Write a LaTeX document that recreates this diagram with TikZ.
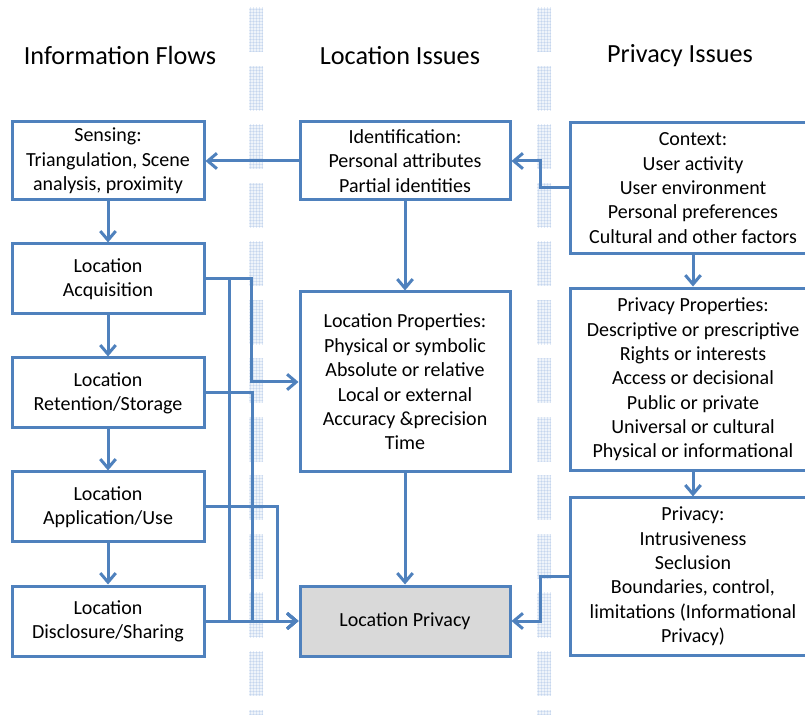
\documentclass[tikz,border=0pt]{standalone}
\usepackage{fontspec}
\setmainfont{Carlito}
\usetikzlibrary{arrows.meta,patterns}

\definecolor{flowblue}{RGB}{79,129,189}
\definecolor{lanegrid}{RGB}{176,198,232}
\definecolor{privgray}{RGB}{217,217,217}

\pgfdeclarepatternformonly{finegrid}{\pgfpointorigin}{\pgfqpoint{1.6pt}{1.6pt}}{\pgfqpoint{1.6pt}{1.6pt}}{
	\pgfsetlinewidth{0.35pt}
	\pgfpathmoveto{\pgfqpoint{0pt}{0pt}}\pgfpathlineto{\pgfqpoint{1.6pt}{0pt}}
	\pgfpathmoveto{\pgfqpoint{0pt}{0pt}}\pgfpathlineto{\pgfqpoint{0pt}{1.6pt}}
	\pgfusepath{stroke}}

\tikzset{
	box/.style={draw=flowblue, line width=1.65pt, align=center, inner sep=0pt,
		font=\fontsize{11}{13.4}\selectfont},
	link/.style={draw=flowblue, line width=1.65pt, -{Straight Barb[length=5pt,width=8.5pt]}},
	heading/.style={font=\fontsize{14.4}{17}\selectfont},
	lane/.style={pattern=finegrid, pattern color=lanegrid},
}

\begin{document}
\begin{tikzpicture}[x=0.55pt,y=-0.55pt]
		\useasboundingbox (0,0) rectangle (805,715);
		\clip (0,0) rectangle (805,715);
		% lane separators
		\foreach \y in {8,66.5,...,715} {
			\fill[lanegrid!20] (249,\y) rectangle (263,\y+44);
			\fill[lane] (249,\y) rectangle (263,\y+44);
			\fill[lanegrid!20] (537,\y) rectangle (551,\y+44);
			\fill[lane] (537,\y) rectangle (551,\y+44);
		}
		\node[heading] (flowhead) at (120,56) {Information Flows};
		\node[heading] (lochead) at (400,56) {Location Issues};
		\node[heading] (privhead) at (680,56) {Privacy Issues};
		% information flows
		\node[box, minimum width=105.6pt, minimum height=42.9pt] (sensing) at (108,161) {Sensing:\\Triangulation, Scene\\analysis, proximity};
		\node[box, minimum width=105.6pt, minimum height=38.5pt] (acq) at (108,279) {Location\\Acquisition};
		\node[box, minimum width=105.6pt, minimum height=38.5pt] (ret) at (108,393) {Location\\Retention/Storage};
		\node[box, minimum width=105.6pt, minimum height=38.5pt] (app) at (108,507) {Location\\Application/Use};
		\node[box, minimum width=105.6pt, minimum height=38.5pt] (disc) at (108,621) {Location\\Disclosure/Sharing};
		% location issues
		\node[box, minimum width=115.5pt, minimum height=42.9pt] (ident) at (405,161) {Identification:\\Personal attributes\\Partial identities};
		\node[box, minimum width=115.5pt, minimum height=99pt] (props) at (405,382) {Location Properties:\\Physical or symbolic\\Absolute or relative\\Local or external\\Accuracy \&precision\\Time};
		\node[box, fill=privgray, minimum width=115.5pt, minimum height=38.5pt] (lpriv) at (405,621) {Location Privacy};
		% privacy issues
		\node[box, minimum width=135.3pt, minimum height=72pt] (context) at (693,188) {Context:\\User activity\\User environment\\Personal preferences\\Cultural and other factors};
		\node[box, minimum width=135.3pt, minimum height=100.6pt] (pprops) at (693,379.5) {Privacy Properties:\\Descriptive or prescriptive\\Rights or interests\\Access or decisional\\Public or private\\Universal or cultural\\Physical or informational};
		\node[box, minimum width=135.3pt, minimum height=86.4pt] (priv) at (693,576.5) {Privacy:\\Intrusiveness\\Seclusion\\Boundaries, control,\\limitations (Informational\\Privacy)};
		% connectors
		\draw[link] (ident) -- (sensing);
		\draw[link] (context.west) -| (540,161) -- (ident.east);
		\draw[link] (sensing) -- (acq);
		\draw[link] (acq) -- (ret);
		\draw[link] (ret) -- (app);
		\draw[link] (app) -- (disc);
		\draw[link] (acq.east) -| (251,382) -- (props.west);
		\draw[link] (acq.east) -| (229,621) -- (lpriv.west);
		\draw[link] (ret.east) -| (252,621) -- (lpriv.west);
		\draw[link] (app.east) -| (277,621) -- (lpriv.west);
		\draw[link] (disc) -- (lpriv);
		\draw[link] (ident) -- (props);
		\draw[link] (props) -- (lpriv);
		\draw[link] (context) -- (pprops);
		\draw[link] (pprops) -- (priv);
		\draw[link] (priv.west) -| (540,621) -- (lpriv.east);
\end{tikzpicture}
\end{document}
